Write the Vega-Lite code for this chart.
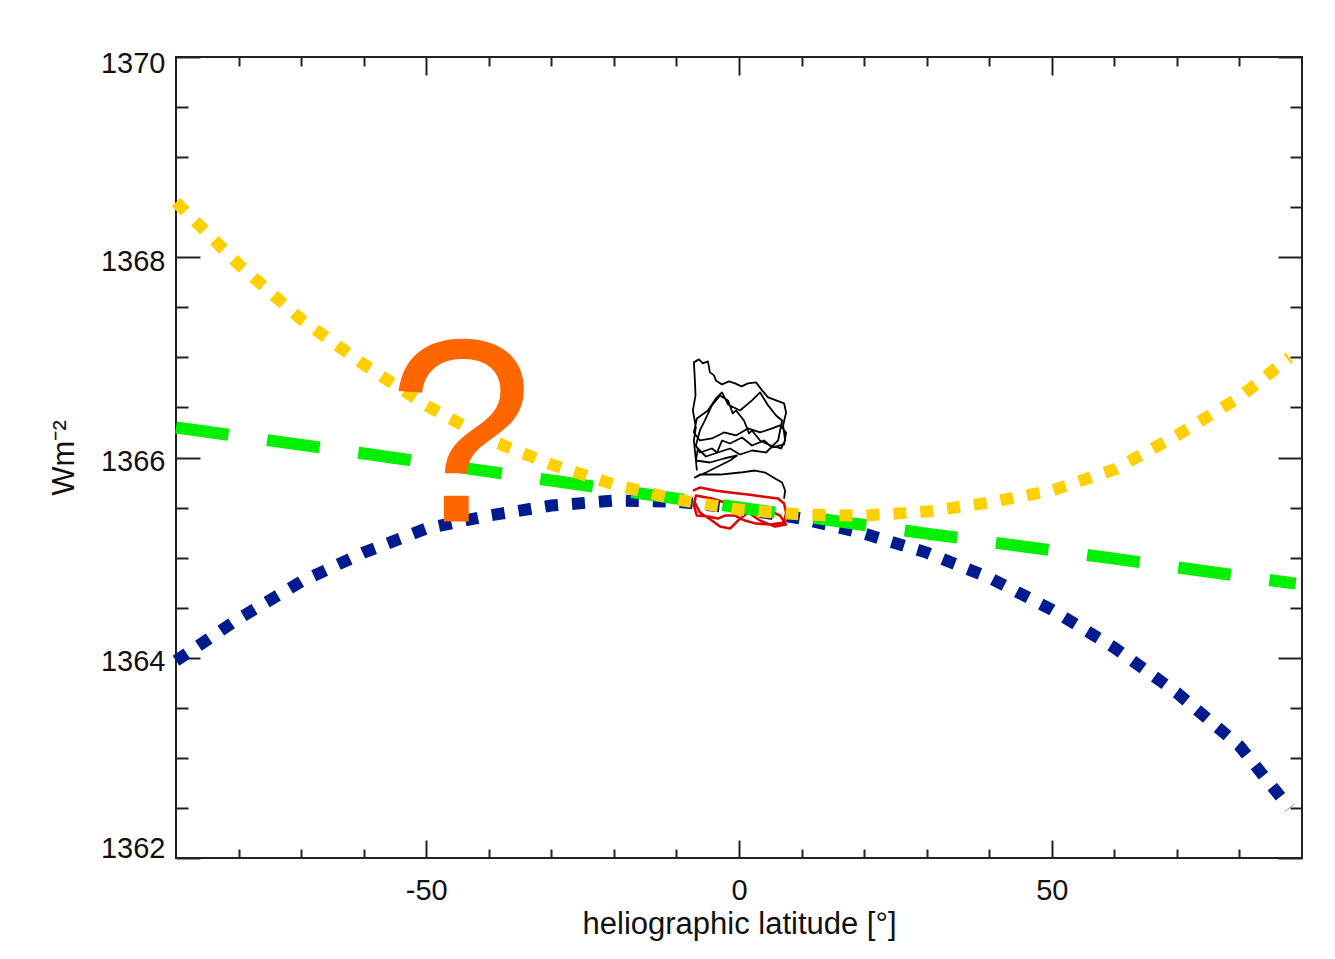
{
  "$schema": "https://vega.github.io/schema/vega-lite/v6.json",
  "width": 1126,
  "height": 801,
  "autosize": {"type": "none"},
  "padding": {"left": 176, "top": 57, "right": 33, "bottom": 101},
  "background": "white",
  "config": {
    "view": {"stroke": "#222222", "strokeWidth": 2},
    "font": "Liberation Sans",
    "axis": {"domain": false, "grid": false, "tickColor": "#222222", "tickWidth": 2, "labelColor": "#111111", "titleColor": "#111111", "labelFont": "Liberation Sans", "titleFont": "Liberation Sans", "titleFontWeight": "normal", "labelFontSize": 29, "titleFontSize": 31}
  },
  "datasets": {
    "black": [
      {"o":1,"lat":-6.73,"val":1365.87},{"o":2,"lat":-7.21,"val":1366.17},{"o":2.5,"lat":-6.9,"val":1366.3},{"o":3,"lat":-7.37,"val":1366.47},{"o":3.5,"lat":-6.95,"val":1366.62},{"o":4,"lat":-7.05,"val":1366.77},{"o":5,"lat":-7.21,"val":1366.95},{"o":6,"lat":-6.41,"val":1366.98},{"o":7,"lat":-5.77,"val":1366.94},{"o":8,"lat":-4.97,"val":1366.96},{"o":9,"lat":-4.65,"val":1366.85},{"o":9.5,"lat":-4.0,"val":1366.82},{"o":10,"lat":-3.69,"val":1366.77},{"o":11,"lat":-2.72,"val":1366.73},{"o":11.5,"lat":-1.6,"val":1366.76},{"o":12,"lat":-0.64,"val":1366.74},{"o":12.5,"lat":0.4,"val":1366.71},{"o":13,"lat":1.44,"val":1366.74},{"o":14,"lat":2.72,"val":1366.75},{"o":15,"lat":3.69,"val":1366.67},{"o":16,"lat":4.65,"val":1366.60},{"o":17,"lat":5.93,"val":1366.57},{"o":18,"lat":7.21,"val":1366.54},{"o":19,"lat":7.53,"val":1366.45},{"o":20,"lat":7.05,"val":1366.32},{"o":21,"lat":7.37,"val":1366.17},{"o":22,"lat":6.73,"val":1366.09},{"o":23,"lat":4.97,"val":1366.12},{"o":24,"lat":3.37,"val":1366.17},{"o":25,"lat":2.08,"val":1366.27},{"o":25.5,"lat":1.6,"val":1366.24},{"o":26,"lat":0.80,"val":1366.37},{"o":27,"lat":-0.48,"val":1366.47},{"o":27.5,"lat":-1.0,"val":1366.44},{"o":28,"lat":-1.76,"val":1366.57},{"o":29,"lat":-3.04,"val":1366.62},{"o":30,"lat":-4.33,"val":1366.52},{"o":31,"lat":-5.45,"val":1366.37},{"o":32,"lat":-6.25,"val":1366.27},{"o":33,"lat":-6.89,"val":1366.12},{"o":34,"lat":-6.25,"val":1366.05},{"o":35,"lat":-4.33,"val":1366.09},{"o":35.5,"lat":-3.5,"val":1366.05},{"o":36,"lat":-2.72,"val":1366.17},{"o":37,"lat":-1.44,"val":1366.14},{"o":38,"lat":0.48,"val":1366.20},{"o":39,"lat":2.08,"val":1366.12},{"o":40,"lat":4.01,"val":1366.17},{"o":41,"lat":5.29,"val":1366.10},{"o":42,"lat":7.21,"val":1366.13},{"o":43,"lat":7.53,"val":1366.25},{"o":44,"lat":6.57,"val":1366.32},{"o":45,"lat":5.29,"val":1366.29},{"o":46,"lat":3.37,"val":1366.25},{"o":47,"lat":1.44,"val":1366.29},{"o":48,"lat":-0.48,"val":1366.22},{"o":49,"lat":-2.40,"val":1366.25},{"o":50,"lat":-4.33,"val":1366.19},{"o":51,"lat":-6.25,"val":1366.17},{"o":52,"lat":-7.21,"val":1366.25},{"o":53,"lat":-6.73,"val":1366.39},{"o":54,"lat":-4.97,"val":1366.47},{"o":55,"lat":-3.69,"val":1366.59},{"o":56,"lat":-2.72,"val":1366.65},{"o":57,"lat":-1.76,"val":1366.53},{"o":58,"lat":0.16,"val":1366.47},{"o":59,"lat":2.08,"val":1366.57},{"o":60,"lat":3.37,"val":1366.65},{"o":61,"lat":4.65,"val":1366.52},{"o":62,"lat":5.93,"val":1366.42},{"o":63,"lat":6.89,"val":1366.37},{"o":64,"lat":6.25,"val":1366.17},{"o":65,"lat":4.33,"val":1366.05},{"o":66,"lat":2.08,"val":1366.07},{"o":67,"lat":0.16,"val":1366.03},{"o":68,"lat":-1.44,"val":1366.09},{"o":69,"lat":-3.37,"val":1366.05},{"o":70,"lat":-5.29,"val":1366.01},{"o":71,"lat":-6.57,"val":1366.09},{"o":72,"lat":-6.89,"val":1365.97},{"o":73,"lat":-4.65,"val":1365.95},{"o":74,"lat":-2.40,"val":1365.99},{"o":75,"lat":-0.32,"val":1366.02},{"o":76,"lat":-1.44,"val":1365.97},{"o":77,"lat":-3.37,"val":1365.91},{"o":78,"lat":-5.29,"val":1365.85},{"o":79,"lat":-7.05,"val":1365.80},{"o":80,"lat":-6.25,"val":1365.83},{"o":81,"lat":-3.04,"val":1365.83},{"o":82,"lat":0.16,"val":1365.85},{"o":83,"lat":2.56,"val":1365.87},{"o":84,"lat":4.17,"val":1365.85},{"o":85,"lat":5.77,"val":1365.79},{"o":86,"lat":6.89,"val":1365.75},{"o":87,"lat":7.37,"val":1365.67},{"o":88,"lat":7.21,"val":1365.59}
    ],
    "red": [
      {"o":1,"lat":-7.37,"val":1365.67},{"o":2,"lat":-6.25,"val":1365.70},{"o":3,"lat":-3.85,"val":1365.67},{"o":4,"lat":-1.44,"val":1365.65},{"o":5,"lat":1.44,"val":1365.63},{"o":6,"lat":3.69,"val":1365.61},{"o":7,"lat":6.25,"val":1365.59},{"o":8,"lat":7.21,"val":1365.54},{"o":9,"lat":7.53,"val":1365.45},{"o":10,"lat":7.21,"val":1365.35},{"o":11,"lat":4.97,"val":1365.33},{"o":12,"lat":2.72,"val":1365.34},{"o":13,"lat":0.96,"val":1365.37},{"o":14,"lat":-0.64,"val":1365.42},{"o":15,"lat":-2.24,"val":1365.42},{"o":16,"lat":-3.37,"val":1365.39},{"o":17,"lat":-4.97,"val":1365.41},{"o":18,"lat":-6.73,"val":1365.42},{"o":19,"lat":-7.21,"val":1365.52},{"o":20,"lat":-6.89,"val":1365.62},{"o":21,"lat":-4.33,"val":1365.59},{"o":22,"lat":-1.76,"val":1365.54},{"o":23,"lat":0.16,"val":1365.50},{"o":24,"lat":2.56,"val":1365.52},{"o":25,"lat":4.97,"val":1365.47},{"o":26,"lat":6.57,"val":1365.42},{"o":27,"lat":7.53,"val":1365.33},{"o":28,"lat":5.77,"val":1365.31},{"o":29,"lat":3.37,"val":1365.37},{"o":30,"lat":1.44,"val":1365.45},{"o":31,"lat":-0.16,"val":1365.37},{"o":32,"lat":-1.44,"val":1365.29},{"o":33,"lat":-3.04,"val":1365.31},{"o":34,"lat":-4.33,"val":1365.37},{"o":35,"lat":-6.25,"val":1365.45},{"o":36,"lat":-7.21,"val":1365.57}
    ],
    "blue": [
      {"lat":-90,"val":1363.97},{"lat":-80,"val":1364.39},{"lat":-70,"val":1364.76},{"lat":-60,"val":1365.05},{"lat":-50,"val":1365.29},{"lat":-40,"val":1365.42},{"lat":-30,"val":1365.52},{"lat":-20,"val":1365.57},{"lat":-10,"val":1365.56},{"lat":0,"val":1365.49},{"lat":10,"val":1365.39},{"lat":20,"val":1365.24},{"lat":30,"val":1365.05},{"lat":40,"val":1364.8},{"lat":50,"val":1364.48},{"lat":60,"val":1364.1},{"lat":70,"val":1363.65},{"lat":80,"val":1363.12},{"lat":88,"val":1362.5}
    ],
    "green": [
      {"lat":-90,"val":1366.30},{"lat":-60,"val":1366.04},{"lat":-30,"val":1365.77},{"lat":0,"val":1365.50},{"lat":30,"val":1365.24},{"lat":60,"val":1364.99},{"lat":89,"val":1364.74}
    ],
    "yellow": [
      {"lat":-90,"val":1368.55},{"lat":-85,"val":1368.24},{"lat":-80,"val":1367.93},{"lat":-70,"val":1367.38},{"lat":-60,"val":1366.93},{"lat":-50,"val":1366.52},{"lat":-40,"val":1366.18},{"lat":-30,"val":1365.93},{"lat":-20,"val":1365.73},{"lat":-10,"val":1365.58},{"lat":0,"val":1365.48},{"lat":10,"val":1365.43},{"lat":20,"val":1365.42},{"lat":30,"val":1365.46},{"lat":40,"val":1365.55},{"lat":50,"val":1365.67},{"lat":60,"val":1365.88},{"lat":70,"val":1366.22},{"lat":80,"val":1366.6},{"lat":88,"val":1367.0}
    ],
    "qmark": [
      {"lat":-44.5,"val":1365.36,"t":"?"}
    ]
  },
  "layer": [
    {
      "data": {"name": "black"},
      "mark": {"type": "line", "color": "#000000", "strokeWidth": 1.8, "strokeJoin": "round"},
      "encoding": {
        "x": {"field": "lat", "type": "quantitative", "scale": {"domain": [-90, 90], "nice": false, "zero": false},
          "axis": {"orient": "bottom", "title": "heliographic latitude [°]", "values": [-80,-70,-60,-50,-40,-30,-20,-10,0,10,20,30,40,50,60,70,80],
            "labelExpr": "datum.value % 50 === 0 ? '' + datum.value : ''",
            "tickSize": {"condition": {"test": "datum.value % 50 === 0", "value": -18}, "value": -9},
            "labelPadding": 36, "titlePadding": 4}},
        "y": {"field": "val", "type": "quantitative", "scale": {"domain": [1362, 1370], "nice": false, "zero": false},
          "axis": {"orient": "left", "title": "Wm⁻²", "values": [1362,1362.5,1363,1363.5,1364,1364.5,1365,1365.5,1366,1366.5,1367,1367.5,1368,1368.5,1369,1369.5,1370],
            "labelExpr": "datum.value % 2 === 0 ? '' + datum.value : ''",
            "tickSize": {"condition": {"test": "datum.value % 2 === 0", "value": -24}, "value": -12},
            "labelOffset": {"condition": [{"test": "datum.value === 1362", "value": -10}, {"test": "datum.value === 1370", "value": 6}], "value": 4},
            "labelFlush": false,
            "labelPadding": 35, "titlePadding": 20}},
        "order": {"field": "o", "type": "quantitative"}
      }
    },
    {
      "data": {"name": "red"},
      "mark": {"type": "line", "color": "#e00000", "strokeWidth": 2.5, "strokeJoin": "round"},
      "encoding": {
        "x": {"field": "lat", "type": "quantitative",
          "axis": {"orient": "top", "title": null, "labels": false, "values": [-80,-70,-60,-50,-40,-30,-20,-10,0,10,20,30,40,50,60,70,80],
            "tickSize": {"condition": {"test": "datum.value % 50 === 0", "value": -18}, "value": -9}}},
        "y": {"field": "val", "type": "quantitative",
          "axis": {"orient": "right", "title": null, "labels": false, "values": [1362,1362.5,1363,1363.5,1364,1364.5,1365,1365.5,1366,1366.5,1367,1367.5,1368,1368.5,1369,1369.5,1370],
            "tickSize": {"condition": {"test": "datum.value % 2 === 0", "value": -24}, "value": -12}}},
        "order": {"field": "o", "type": "quantitative"}
      }
    },
    {
      "data": {"name": "blue"},
      "mark": {"type": "line", "color": "#001a8f", "strokeWidth": 12, "strokeCap": "butt", "strokeDash": [13, 14]},
      "encoding": {
        "x": {"field": "lat", "type": "quantitative", "axis": null},
        "y": {"field": "val", "type": "quantitative", "axis": null}
      }
    },
    {
      "data": {"name": "green"},
      "mark": {"type": "line", "color": "#00f000", "strokeWidth": 12, "strokeCap": "butt", "strokeDash": [53, 39]},
      "encoding": {
        "x": {"field": "lat", "type": "quantitative", "axis": null},
        "y": {"field": "val", "type": "quantitative", "axis": null}
      }
    },
    {
      "data": {"name": "yellow"},
      "mark": {"type": "line", "color": "#ffd000", "strokeWidth": 12, "strokeCap": "butt", "strokeDash": [13, 14]},
      "encoding": {
        "x": {"field": "lat", "type": "quantitative", "axis": null},
        "y": {"field": "val", "type": "quantitative", "axis": null}
      }
    },
    {
      "data": {"name": "qmark"},
      "mark": {"type": "text", "color": "#ff6600", "fontSize": 262, "font": "Liberation Sans", "align": "center", "baseline": "alphabetic"},
      "encoding": {
        "x": {"field": "lat", "type": "quantitative", "axis": null},
        "y": {"field": "val", "type": "quantitative", "axis": null},
        "text": {"field": "t"}
      }
    }
  ],
  "resolve": {"axis": {"x": "independent", "y": "independent"}}
}
